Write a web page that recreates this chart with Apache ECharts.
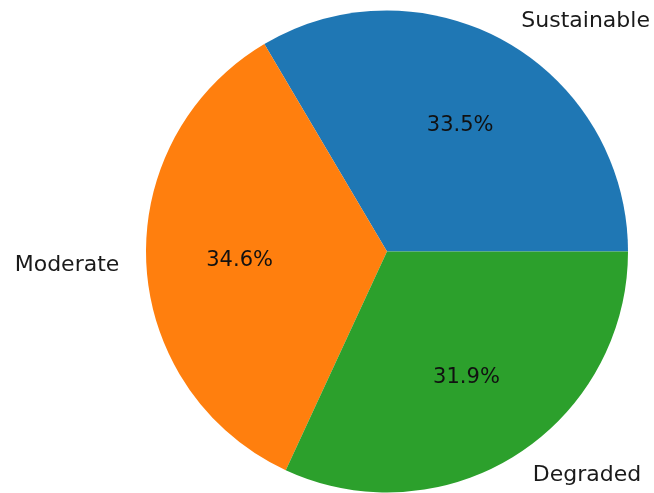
<!DOCTYPE html>
<html>
<head>
<meta charset="utf-8">
<script src="https://cdn.jsdelivr.net/npm/echarts@6/dist/echarts.min.js"></script>
<style>
html,body{margin:0;padding:0;background:#fff;}
#chart{width:654px;height:493px;}
</style>
</head>
<body>
<div id="chart"></div>
<script>
const categories = ['Sustainable', 'Moderate', 'Degraded'];
const shares = [33.5, 34.6, 31.9];
const colors = ['#1f77b4', '#ff7f0e', '#2ca02c'];

const chart = echarts.init(document.getElementById('chart'), null, {renderer: 'canvas'});
const R = 241;
const CX = 387, CY = 251.5;
const FONT = '"DejaVu Sans", sans-serif';

const sliceData = categories.map((c, i) => ({
  name: c, value: shares[i], itemStyle: {color: colors[i]}
}));
const pctData = categories.map((c, i) => ({
  name: c, value: shares[i], itemStyle: {color: 'rgba(0,0,0,0)'}
}));

chart.setOption({
  animation: false,
  backgroundColor: '#fff',
  series: [
    {
      type: 'pie',
      center: [CX, CY],
      radius: [0, R],
      startAngle: 0,
      clockwise: false,
      avoidLabelOverlap: false,
      silent: true,
      itemStyle: {borderWidth: 0},
      label: {
        show: true,
        position: 'outside',
        formatter: '{b}',
        color: '#1a1a1a',
        fontFamily: FONT,
        fontSize: 22,
        distanceToLabelLine: 3
      },
      labelLine: {show: false, length: 24, length2: 0},
      emphasis: {disabled: true},
      data: sliceData
    },
    {
      type: 'pie',
      center: [CX, CY],
      radius: [0.2 * R, R],
      startAngle: 0,
      clockwise: false,
      avoidLabelOverlap: false,
      silent: true,
      itemStyle: {borderWidth: 0},
      label: {
        show: true,
        position: 'inner',
        rotate: 0,
        offset: [0, 2],
        formatter: p => p.value.toFixed(1) + '%',
        color: '#111',
        fontFamily: FONT,
        fontSize: 21
      },
      labelLine: {show: false},
      emphasis: {disabled: true},
      data: pctData
    }
  ]
});
</script>
</body>
</html>
